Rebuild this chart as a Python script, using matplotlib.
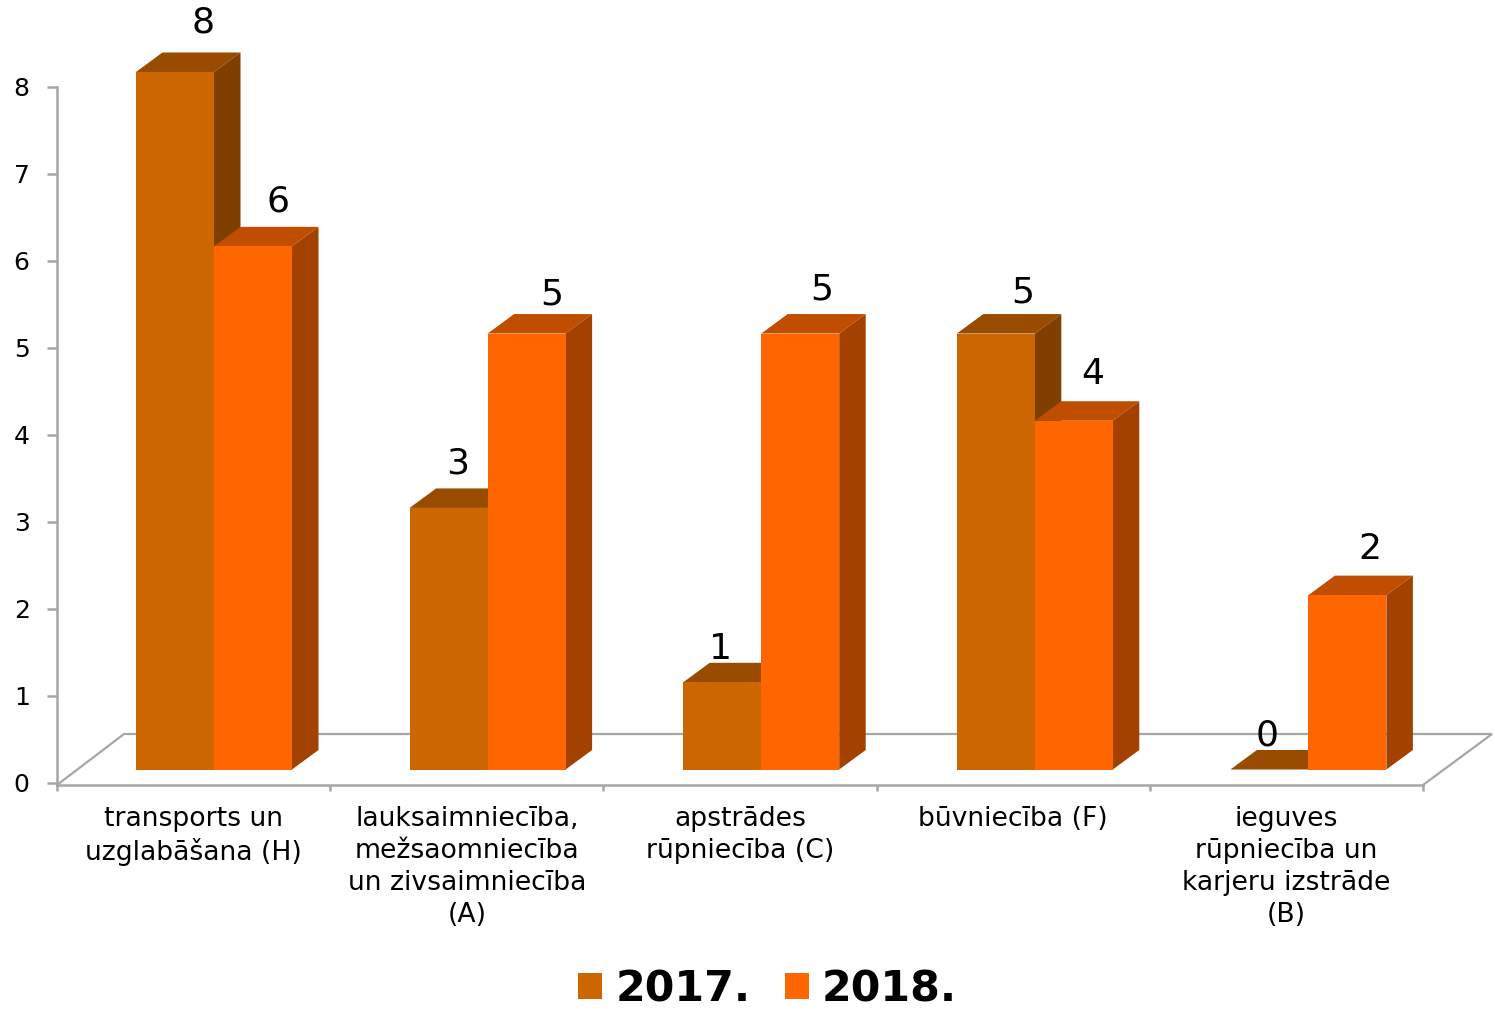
import matplotlib
matplotlib.use('Agg')
from matplotlib import pyplot as plt
from matplotlib.patches import Polygon

categories = ['transports un\nuzglabāšana (H)',
              'lauksaimniecība,\nmežsaomniecība\nun zivsaimniecība\n(A)',
              'apstrādes\nrūpniecība (C)',
              'būvniecība (F)',
              'ieguves\nrūpniecība un\nkarjeru izstrāde\n(B)']
values_2017 = [8, 3, 1, 5, 0]
values_2018 = [6, 5, 5, 4, 2]
y_ticks = [0, 1, 2, 3, 4, 5, 6, 7, 8]

# label nudges in pixels, the original chart places them unevenly
nudge_2017 = [(15, 30), (-4, 25), (-15, 14), (14, 22), (-16, 15)]
nudge_2018 = [(12, 25), (12, 20), (8, 25), (6, 27), (9, 27)]

W, H = 1495, 1009
fig = plt.figure(figsize=(W / 100, H / 100), dpi=100)
ax = fig.add_axes([57 / W, 1 - 782.5 / H, (1423 - 57) / W, (782.5 - 87) / H])
ax.set_xlim(0, 5)
ax.set_ylim(0, 8)

gray = '#a6a6a6'
ux = (1423 - 57) / 5
uy = (782.5 - 87) / 8
bar_w = 78 / ux
bar_off = 79 / ux
group_step = 273.6 / ux
base = 13 / uy
bar_scale = 87.19 / uy
depth_x = 26.5 / ux
depth_y = 19.5 / uy

# floor
floor_x = 67 / ux
floor_x2 = 69 / ux
floor_y = 48.5 / uy
drop = 2.5 / uy
ax.plot([0, floor_x, 5 + floor_x2, 5], [-drop, floor_y, floor_y, -drop], color=gray, lw=1.6,
        clip_on=False, zorder=1, solid_joinstyle='miter')


def draw_series(vals, left, front, top, side, label, z):
    heights = [v * bar_scale for v in vals]
    bars = ax.bar([i * group_step + left for i in range(len(vals))], heights, bar_w, bottom=base, align='edge',
                  color=front, label=label, zorder=z + 1, clip_on=False)
    for i, h in enumerate(heights):
        x0 = i * group_step + left
        x1 = x0 + bar_w
        y0 = base
        y1 = base + h
        ax.add_patch(Polygon([(x0, y1), (x1, y1), (x1 + depth_x, y1 + depth_y), (x0 + depth_x, y1 + depth_y)],
                             color=top, lw=0, zorder=z, clip_on=False))
        ax.add_patch(Polygon([(x1, y0), (x1 + depth_x, y0 + depth_y), (x1 + depth_x, y1 + depth_y), (x1, y1)],
                             color=side, lw=0, zorder=z, clip_on=False))
    return bars


draw_series(values_2017, bar_off, '#cc6600', '#994c00', '#7f3f00', '2017.', 2)
draw_series(values_2018, bar_off + bar_w, '#ff6600', '#c04d00', '#a34100', '2018.', 4)

for i in range(5):
    for vals, left, nudge in ((values_2017, bar_off, nudge_2017), (values_2018, bar_off + bar_w, nudge_2018)):
        ax.annotate(str(vals[i]),
                    (i * group_step + left + bar_w / 2 + depth_x / 2, base + vals[i] * bar_scale + depth_y),
                    xytext=(nudge[i][0] * 0.72, nudge[i][1] * 0.72), textcoords='offset points',
                    ha='center', va='center', fontsize=26, color='black', zorder=10,
                    annotation_clip=False)

for s in ['top', 'right']:
    ax.spines[s].set_visible(False)
for s in ['left', 'bottom']:
    ax.spines[s].set_color(gray)
    ax.spines[s].set_linewidth(1.8)
ax.spines['bottom'].set_position(('outward', 1.8))
ax.spines['left'].set_bounds(-drop, 8)

ax.set_yticks(y_ticks)
ax.tick_params(axis='y', length=7.2, width=1.8, color=gray, labelsize=18, pad=12.5)
ax.set_xticks(range(6))
ax.set_xticklabels([])
ax.tick_params(axis='x', which='major', length=4, width=1.8, color=gray)
ax.set_xticks([i + 0.5 for i in range(5)], minor=True)
ax.set_xticklabels(categories, minor=True, fontsize=19.2, linespacing=1.3, va='top')
ax.tick_params(axis='x', which='minor', length=0, pad=15)

fig.legend(loc='center', bbox_to_anchor=(767.5 / W, 1 - 989 / H), ncol=2, frameon=False,
           prop={'size': 30.8, 'weight': 'bold'}, handlelength=0.56, handleheight=0.56,
           handletextpad=0.3, columnspacing=0.8, borderpad=0, borderaxespad=0)

fig.savefig('out.png', dpi=100)
